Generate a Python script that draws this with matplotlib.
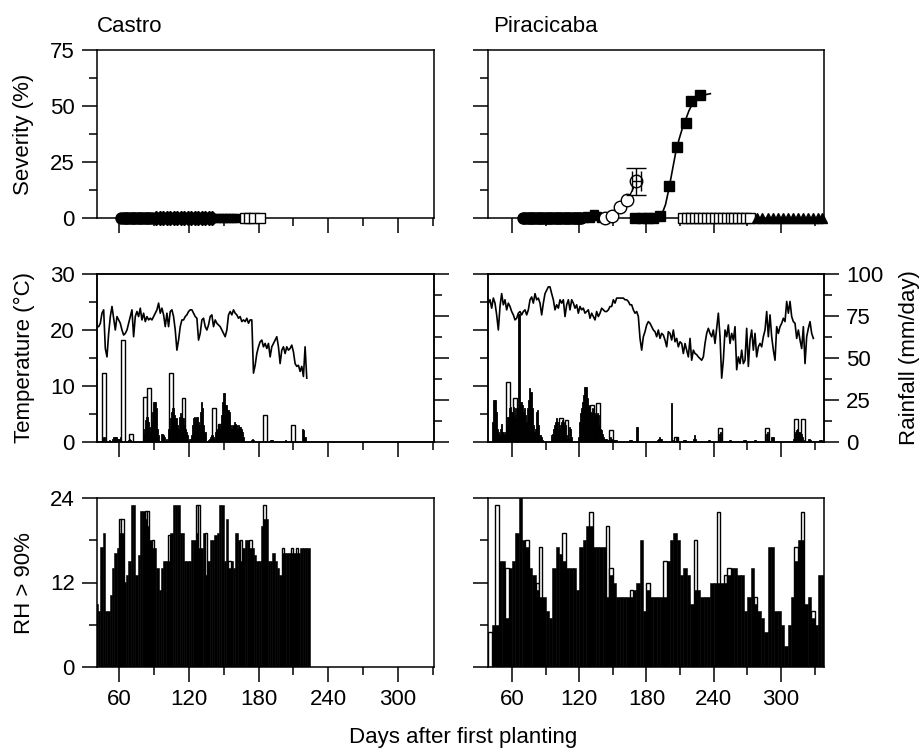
import numpy as np
import matplotlib
matplotlib.use("Agg")
import matplotlib.pyplot as plt

plt.rcParams['font.family'] = ['Liberation Sans', 'DejaVu Sans']
plt.rcParams['font.size'] = 16

# ---------------- DATA ----------------
sites = ["Castro", "Piracicaba"]
x_major = [60, 120, 180, 240, 300]
x_minor = [90, 150, 210, 270, 330]

# Castro daily mean temperature (°C), from day 41 to 221.5
castro_temp = [20.6,20.6,21.2,23.0,23.6,16.7,15.2,19.4,22.4,24.2,22.1,20.0,22.4,21.8,21.2,20.0,19.1,19.4,20.0,21.2,
               22.4,23.6,18.8,22.4,23.3,22.4,23.9,21.8,23.0,21.5,22.4,21.8,22.1,21.8,22.4,23.0,23.6,24.8,23.0,23.9,
               22.7,20.6,23.0,20.6,23.3,23.6,22.4,20.0,16.4,18.2,20.6,21.8,21.8,22.4,22.7,23.3,23.6,23.6,23.0,22.4,
               22.1,18.2,19.4,21.8,22.1,20.6,20.0,20.9,22.4,22.7,20.6,21.8,21.2,20.9,20.6,20.0,19.4,18.8,20.0,22.7,
               23.3,22.7,23.6,23.0,22.7,22.1,22.4,21.5,21.8,21.5,22.1,21.2,21.8,21.8,12.3,13.7,15.8,17.0,17.9,18.2,
               17.0,17.6,16.7,17.6,15.2,17.0,17.6,18.2,18.8,17.0,14.0,16.4,17.0,15.8,17.0,16.4,16.7,17.3,16.1,14.0,
               13.5,13.7,12.6,13.5,11.7,17.0,11.4]
castro_temp_start, castro_temp_end = 41.0, 221.5

# Piracicaba daily mean temperature (°C), from day 38.9 to 328.9
pira_temp = [24.8,25.4,23.9,25.7,24.8,22.7,20.0,24.2,26.5,24.5,25.4,23.6,24.8,24.2,23.3,22.7,21.8,22.1,23.0,23.3,
             22.7,23.3,23.6,22.7,23.6,25.4,25.9,24.8,26.5,25.4,25.7,24.8,22.7,24.8,26.5,27.1,27.7,27.7,26.5,25.4,
             23.6,24.5,23.9,25.4,24.8,25.4,22.4,24.5,25.4,23.6,25.4,24.8,23.9,24.5,23.0,24.2,23.6,23.9,23.0,23.3,
             23.6,22.1,23.0,22.4,21.8,23.3,22.4,23.0,23.9,23.6,23.3,23.3,23.6,24.2,24.2,25.4,24.8,25.7,25.7,25.7,
             25.7,25.7,25.4,25.4,25.1,24.5,24.5,23.6,23.0,23.3,22.4,18.5,16.4,18.8,19.7,20.9,21.5,21.2,20.6,20.0,
             19.7,18.8,20.0,18.5,19.4,19.1,18.2,17.0,19.7,19.4,18.2,20.0,17.9,18.5,17.0,17.9,17.6,15.8,17.6,16.4,
             15.2,18.5,14.6,16.4,15.8,15.6,15.2,14.9,14.6,15.2,17.6,19.4,20.3,19.4,18.8,20.0,17.6,20.3,23.0,18.8,
             11.4,14.6,20.0,18.8,20.9,17.6,19.4,18.2,20.6,12.9,15.2,14.0,16.4,14.0,14.6,20.3,13.5,18.2,20.0,16.4,
             19.4,15.2,17.0,17.6,17.0,18.8,20.0,23.3,18.8,22.7,18.8,16.4,14.6,20.6,19.4,20.6,21.2,22.1,21.5,25.1,
             23.0,25.1,22.4,21.5,21.2,18.5,20.0,18.2,16.7,20.6,14.0,18.8,20.3,21.5,19.4,18.5]
pira_temp_start, pira_temp_end = 38.9, 328.9

# Rainfall (mm/day): filled bars and open bars
castro_rain_days = [46,47,52,54,55,56,57,58,59,60,61,68,69,70,81,82,83,84,85,86,87,88,89,90,91,92,93,94,97,98,99,101,
                    103,104,105,106,107,108,109,110,111,112,113,114,115,116,117,118,119,121,122,123,124,125,126,127,
                    128,129,130,131,132,133,134,137,138,139,140,141,142,143,144,145,146,147,148,149,150,151,152,153,
                    154,155,156,157,158,159,160,161,162,163,164,165,166,167,174,175,176,190,191,192,203,218,219,220]
castro_rain_mm = [2,3,1,2,3,3,3,3,2,2,3,1,2,1,5,8,13,15,12,9,6,12,18,24,24,20,8,4,5,4,3,2,
                  8,14,18,20,20,16,14,10,8,15,17,15,14,10,8,6,4,2,4,10,14,15,14,15,
                  12,10,18,24,20,10,6,1,2,3,4,3,2,6,8,7,10,8,16,24,29,29,22,19,
                  19,18,10,8,10,12,11,10,8,10,9,8,6,3,1,2,1,1,1,1,1,8,7,3]
castro_rain_open_days = [47, 63.5, 70.5, 82, 86, 104.5, 115.5, 141.5, 146.5, 185.5, 209.5]
castro_rain_open_mm = [41, 61, 5, 27, 32, 41, 26, 20, 11, 16, 10]

pira_rain_days = [43,44,45,46,47,48,49,50,51,52,53,54,55,56,57,58,59,60,61,62,63,64,65,66,67,68,69,70,71,72,73,74,
                  75,76,77,78,79,80,81,82,83,84,85,86,87,95,96,97,98,99,100,101,102,103,104,105,106,107,108,109,
                  110,111,112,113,119,120,121,122,123,124,125,126,127,128,129,130,131,132,133,134,135,136,137,138,
                  139,140,141,142,143,144,145,146,147,148,149,150,151,152,153,165,166,167,171,172,190,191,192,193,
                  202,203,207,208,213,214,215,222,223,224,235,236,245,246,247,254,255,267,268,276,277,287,288,289,
                  292,293,311,312,313,314,315,316,317,318,319,321,325,326,334,335,336]
pira_rain_mm = [12,25,25,18,8,6,4,8,11,6,4,6,10,15,15,20,21,18,21,16,20,14,20,76,76,24,22,18,20,16,12,20,
                25,32,30,20,10,6,8,18,19,10,4,3,1,4,5,8,10,12,14,12,8,10,12,13,10,12,10,4,
                2,9,8,3,3,12,17,20,24,28,33,33,26,22,21,18,17,20,18,17,16,17,16,10,
                8,7,5,3,2,2,1,1,1,3,2,1,1,1,1,1,1,1,9,9,1,2,3,2,
                23,1,3,1,1,1,1,2,4,2,1,1,5,6,2,1,1,1,1,1,1,5,6,2,
                3,3,2,5,6,7,8,6,6,5,3,1,2,1,1,1,1]
pira_rain_open_days = [56.5, 62.5, 103.5, 108.5, 131.5, 136.5, 148.5, 206.5, 245.5, 287.5, 313.5, 319.5]
pira_rain_open_mm = [36, 26, 14, 13, 22, 23, 7, 3, 8.5, 8.5, 13.5, 13.5]

# Hours with RH > 90% (2-day bins for Castro from day 40, 3-day bins for Piracicaba from day 39)
castro_rh_start, castro_rh_step = 40, 2
castro_rh_fill = [9,8,17,19,8,8,10.2,14,16.2,16.9,19.1,19.1,12.1,13.1,15,23,23,13.1,15.9,22.1,22.1,21,20,18.1,16.9,16.9,
                  14,10.9,14,15,15,15,19.1,23,23,23,19.1,19.1,15,15,15,18.1,18.1,19.1,16.9,16.9,19.1,13,15,18.1,
                  18.1,18.8,19.1,23,23,15,21,14,15,14,19.1,18.1,15,16.9,18.1,18.1,16.9,16.9,15.9,15,15,20,21,21,
                  15,15,16.2,15,14,13.1,16.2,16.2,16.2,16.2,16.2,16.2,16.2,16.2,16.9,16.9,16.9,16.9]
castro_rh_open = [0,0,0,0,0,0,0,0,0,0,21,21,0,0,0,0,0,0,0,0,0,22.1,22.1,0,18.1,0,
                  0,0,0,0,0,18.8,0,0,0,0,0,0,0,0,0,0,0,23,23,0,0,19,0,0,
                  0,0,0,0,0,0,0,15,0,0,0,0,18.1,0,0,0,18.1,0,0,0,0,0,23,0,
                  0,0,0,0,0,0,16.9,0,0,0,16.9,0,16.9,0,0,0,0,0]
pira_rh_start, pira_rh_step = 39, 3
pira_rh_fill = [0,6,6,15,15,7,14,15,19,24,18,17,14,13,11,10,10,8,7,14,17,16,15,14,14,14,11,17,18,20,
                20,17,17,17,17,10,13,12,10,10,10,10,10,11,12,18,8,11,10,10,10,10,10,15,18,19,18,13,14,13,
                9,11,11,10,10,10,12,12,12,12,12,13,14,14,13,13,8,10,14,9,8,7,5,17,17,8,8,6,3,6,
                10,15,18,18,9,10,7,6,13,13]
pira_rh_open = [5,0,23,0,0,14,0,0,0,0,0,18,0,0,12,17,0,0,0,0,0,0,19,0,0,0,0,0,0,0,
                22,0,0,0,0,20,14,0,0,0,0,0,11,0,0,0,0,12,0,0,0,0,15,0,0,0,0,0,0,0,
                0,18,0,0,0,0,0,0,22,0,13,14,0,0,0,0,0,0,0,10,0,0,0,0,0,0,0,0,0,0,
                0,17,0,22,0,0,8,0,0,0]

# Disease severity (%) - Castro plantings (all zero)
cas_s1_days = [62,64,66,68,70,72,74,76,78,80,82,84,86,88]
cas_s1_sev = [0]*14
cas_s2_days = [92,95,98,101,104,107,110,113,116,119,122,125,128,131,134,137,140]
cas_s2_sev = [0]*17
cas_s3_days = [143,146,149,152,155,158,161]
cas_s3_sev = [0]*7
cas_s4_days = [168,172,176,181]
cas_s4_sev = [0]*4

# Piracicaba plantings
pir_s1_days = [70,72,74,76,78,80,82,84,86,88,90,92,94,96,98,100,102,104,106,108,110,112,114,116,118,120,122]
pir_s1_sev = [0]*27
pir_s2_days = [124,127,130,133,136,139]
pir_s2_sev = [0,1,0,2,1,0]
pir_s3_days = [143,149,156,163,171]
pir_s3_sev = [0,1,5,8,16.4]
pir_s3_err = [0,0,0,0,6]
pir_s3_fit_days = [135,142,148,153,157,161,165,169,173]
pir_s3_fit_sev = [0,0.3,1,2.5,4.5,7,10,14,19]
pir_s4_days = [170,176,181,186,192,200,207,215,220,228]
pir_s4_sev = [0,0,0,0,1,14.4,31.5,42.4,52.1,55.1]
pir_s4_fit_days = [185,190,194,197,200,203,206,209,212,215,218,221,224,228,232,237]
pir_s4_fit_sev = [0,0.5,2,6,13,21,29,35,40,44,48,51,53,55,55,55.5]
pir_s5_days = [213,216.5,220,223.5,227,230.5,234,237.5,241,244.5,248,251.5,255,258.5,262,265.5,269,272.5]
pir_s5_sev = [0]*18
pir_s6_days = [279,283.5,288,292.5,297,301.5,306,310.5,315,319.5,324,328.5,333,337]
pir_s6_sev = [0]*14

# ---------------- FIGURE ----------------
fig = plt.figure(figsize=(9.22, 7.56), dpi=100)
W, H = 922, 756

def axes_px(x0, y0, x1, y1):
    return fig.add_axes([x0 / W, 1 - y1 / H, (x1 - x0) / W, (y1 - y0) / H])

col_x = [(97, 434), (488, 824)]
row_y = [(50, 218), (274, 442), (498, 667)]
xlims = [(41, 331), (38.6, 338.4)]

LW = 1.1

def style(ax, xlim, xlabels, ylabels):
    ax.set_xlim(*xlim)
    ax.set_xticks(x_major)
    ax.set_xticks(x_minor, minor=True)
    ax.tick_params(which='major', direction='out', length=11, width=LW, pad=5,
                   top=False, right=False, labelbottom=xlabels, labelleft=ylabels, labelsize=16)
    ax.tick_params(which='minor', direction='out', length=5.5, width=LW, top=False, right=False)
    for sp in ax.spines.values():
        sp.set_linewidth(LW)

axs = {}
for c in range(2):
    for r in range(3):
        axs[(r, c)] = axes_px(col_x[c][0], row_y[r][0], col_x[c][1], row_y[r][1])

mk = dict(clip_on=False, zorder=5, linestyle='none')

# --- Severity row ---
for c in range(2):
    ax = axs[(0, c)]
    style(ax, xlims[c], False, c == 0)
    ax.set_ylim(0, 75)
    ax.set_yticks([0, 25, 50, 75])
    ax.set_yticks([12.5, 37.5, 62.5], minor=True)

ax = axs[(0, 0)]
ax.plot(cas_s1_days, cas_s1_sev, marker='o', ms=8, mfc='black', mec='black', **mk)
ax.plot(cas_s2_days, cas_s2_sev, marker='D', ms=7, mfc='black', mec='black', **mk)
ax.plot(cas_s3_days, cas_s3_sev, marker='s', ms=6, mfc='black', mec='black', **mk)
ax.plot(cas_s4_days, cas_s4_sev, marker='s', ms=7, mfc='white', mec='black', mew=1, **mk)

ax = axs[(0, 1)]
ax.plot(pir_s1_days, pir_s1_sev, marker='o', ms=8, mfc='black', mec='black', **mk)
ax.plot(pir_s2_days, pir_s2_sev, marker='s', ms=6, mfc='black', mec='black', **mk)
ax.plot(pir_s3_fit_days, pir_s3_fit_sev, color='black', lw=1, clip_on=False, zorder=4)
ax.plot(pir_s3_days, pir_s3_sev, marker='o', ms=9, mfc='white', mec='black', mew=1, **mk)
ax.errorbar(pir_s3_days[-1:], pir_s3_sev[-1:], yerr=pir_s3_err[-1:], xerr=[4], fmt='none',
            ecolor='black', elinewidth=1, capsize=7, capthick=1, zorder=5)
ax.plot(pir_s4_fit_days, pir_s4_fit_sev, color='black', lw=1.2, clip_on=False, zorder=4)
ax.plot(pir_s4_days, pir_s4_sev, marker='s', ms=7, mfc='black', mec='black', **mk)
ax.plot(pir_s5_days, pir_s5_sev, marker='s', ms=7, mfc='white', mec='black', mew=1, **mk)
ax.plot(pir_s6_days, pir_s6_sev, marker='^', ms=7, mfc='black', mec='black', **mk)

# --- Temperature / rainfall row ---
temps = [(castro_temp, castro_temp_start, castro_temp_end), (pira_temp, pira_temp_start, pira_temp_end)]
rains = [(castro_rain_days, castro_rain_mm, castro_rain_open_days, castro_rain_open_mm),
         (pira_rain_days, pira_rain_mm, pira_rain_open_days, pira_rain_open_mm)]
for c in range(2):
    ax = axs[(1, c)]
    style(ax, xlims[c], False, c == 0)
    ax.set_ylim(0, 30)
    ax.set_yticks([0, 10, 20, 30])
    ax.set_yticks([5, 15, 25], minor=True)
    tw = ax.twinx()
    tw.set_ylim(0, 100)
    tw.set_yticks([0, 25, 50, 75, 100])
    tw.set_yticks([12.5, 37.5, 62.5, 87.5], minor=True)
    tw.tick_params(which='major', direction='out', length=11, width=LW, pad=5,
                   labelright=(c == 1), labelsize=16)
    tw.tick_params(which='minor', direction='out', length=5.5, width=LW)
    for sp in tw.spines.values():
        sp.set_linewidth(LW)
    rd, rm, od, om = rains[c]
    tw.bar(od, om, width=3.2, color='white', edgecolor='black', linewidth=1.0, zorder=1)
    tw.bar(rd, rm, width=1.0, color='black', edgecolor='black', linewidth=0.6, zorder=2)
    ax.set_zorder(tw.get_zorder() + 1)
    ax.patch.set_visible(False)
    tv, t0, t1 = temps[c]
    ax.plot(np.linspace(t0, t1, len(tv)), tv, color='black', lw=1.2, zorder=3)
    if c == 1:
        fig.text(909 / W, 1 - 358 / H, "Rainfall (mm/day)", rotation=90, ha='center', va='center', fontsize=16)

# --- RH row ---
rhs = [(castro_rh_start, castro_rh_step, castro_rh_fill, castro_rh_open),
       (pira_rh_start, pira_rh_step, pira_rh_fill, pira_rh_open)]
for c in range(2):
    ax = axs[(2, c)]
    style(ax, xlims[c], True, c == 0)
    ax.set_ylim(0, 24)
    ax.set_yticks([0, 12, 24])
    ax.set_yticks([6, 18], minor=True)
    s0, st, fv, ov = rhs[c]
    d = [s0 + st * i for i in range(len(fv))]
    ax.bar(d, ov, width=st, align='edge', color='white', edgecolor='black', linewidth=1.0, zorder=1)
    ax.bar(d, fv, width=st, align='edge', color='black', edgecolor='black', linewidth=0.4, zorder=2)

# --- Texts ---
fig.text(97 / W, 1 - 27 / H, sites[0], ha='left', va='center', fontsize=16)
fig.text(493 / W, 1 - 27 / H, sites[1], ha='left', va='center', fontsize=16)
fig.text(24 / W, 1 - 134 / H, "Severity (%)", rotation=90, ha='center', va='center', fontsize=16)
fig.text(24 / W, 1 - 358 / H, "Temperature (\u00b0C)", rotation=90, ha='center', va='center', fontsize=16)
fig.text(24 / W, 1 - 583 / H, "RH > 90%", rotation=90, ha='center', va='center', fontsize=16)
fig.text(463 / W, 1 - 738 / H, "Days after first planting", ha='center', va='center', fontsize=16)

fig.savefig("out.png", dpi=100)
